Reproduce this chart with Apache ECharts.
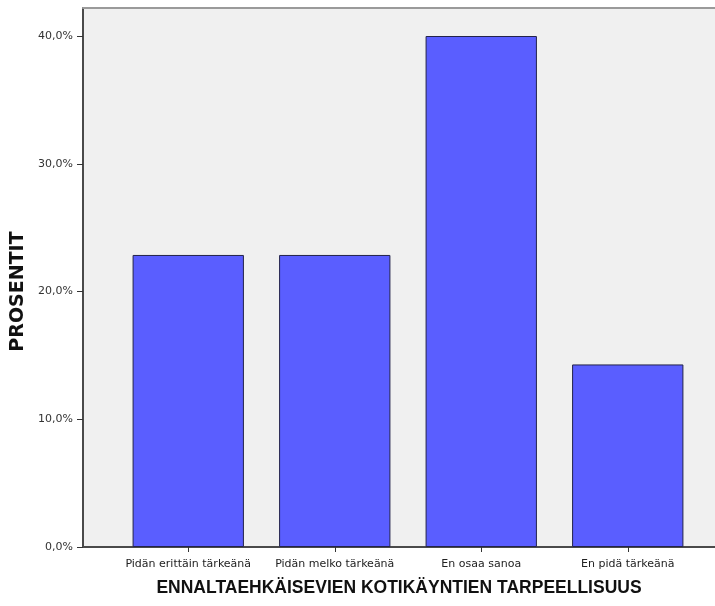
<!DOCTYPE html>
<html>
<head>
<meta charset="utf-8">
<script src="https://cdn.jsdelivr.net/npm/echarts@6/dist/echarts.min.js"></script>
<style>html,body{margin:0;padding:0;background:#fff}#c{width:715px;height:606px}</style>
</head>
<body>
<div id="c"></div>
<script>
const categories = ['Pidän erittäin tärkeänä', 'Pidän melko tärkeänä', 'En osaa sanoa', 'En pidä tärkeänä'];
const percentages = [22.86, 22.86, 40.0, 14.29];
const yTicks = [0, 10, 20, 30, 40];
const xTitle = 'ENNALTAEHKÄISEVIEN KOTIKÄYNTIEN TARPEELLISUUS';
const yTitle = 'PROSENTIT';

const chart = echarts.init(document.getElementById('c'));
const font = 'DejaVu Sans, sans-serif';
chart.setOption({
  animation: false,
  grid: [
    {left: 83, top: 8, right: 0, bottom: 59, show: true, backgroundColor: '#f0f0f0', borderWidth: 0},
    {left: 115, top: 36, right: 14, bottom: 59},
    {left: 83, top: 36, right: 0, bottom: 59}
  ],
  xAxis: [
    {type: 'value', gridIndex: 0, min: 0, max: 1, position: 'bottom',
     axisLine: {show: true, onZero: false, lineStyle: {color: '#4a4a4a', width: 2}},
     axisTick: {show: false}, axisLabel: {show: false}, splitLine: {show: false},
     name: xTitle, nameLocation: 'middle', nameGap: 32,
     nameTextStyle: {fontFamily: 'Liberation Sans, Arial, sans-serif', fontWeight: 'bold', fontSize: 17.5, color: '#111'}},
    {type: 'category', gridIndex: 1, data: categories,
     axisLine: {show: false},
     axisTick: {show: true, alignWithLabel: true, length: 5, lineStyle: {color: '#333', width: 1}},
     axisLabel: {fontFamily: font, fontSize: 11, color: '#222', margin: 12, interval: 0}},
    {type: 'value', gridIndex: 2, min: 0, max: 1, show: false},
    {type: 'value', gridIndex: 0, min: 0, max: 1, position: 'top',
     axisLine: {show: true, onZero: false, lineStyle: {color: '#9a9a9a', width: 2}},
     axisTick: {show: false}, axisLabel: {show: false}, splitLine: {show: false}}
  ],
  yAxis: [
    {type: 'value', gridIndex: 0, min: 0, max: 1,
     axisLine: {show: true, onZero: false, lineStyle: {color: '#4a4a4a', width: 2}},
     axisTick: {show: false}, axisLabel: {show: false}, splitLine: {show: false}},
    {type: 'value', gridIndex: 1, min: 0, max: 40, show: false},
    {type: 'value', gridIndex: 2, min: 0, max: 40, interval: 10,
     axisLine: {show: false},
     axisTick: {show: true, length: 6, lineStyle: {color: '#333', width: 1}},
     splitLine: {show: false},
     axisLabel: {fontFamily: font, fontSize: 11, color: '#333', margin: 10,
       formatter: v => yTicks.includes(v) ? v.toFixed(1).replace('.', ',') + '%' : ''},
     name: yTitle, nameLocation: 'middle', nameGap: 51,
     nameTextStyle: {fontFamily: font, fontWeight: 'bold', fontSize: 19, color: '#111'}}
  ],
  series: [{
    type: 'bar', xAxisIndex: 1, yAxisIndex: 1, data: percentages,
    barCategoryGap: '24%',
    itemStyle: {color: '#5a5eff', borderColor: '#23234a', borderWidth: 1}
  }]
});
</script>
</body>
</html>
